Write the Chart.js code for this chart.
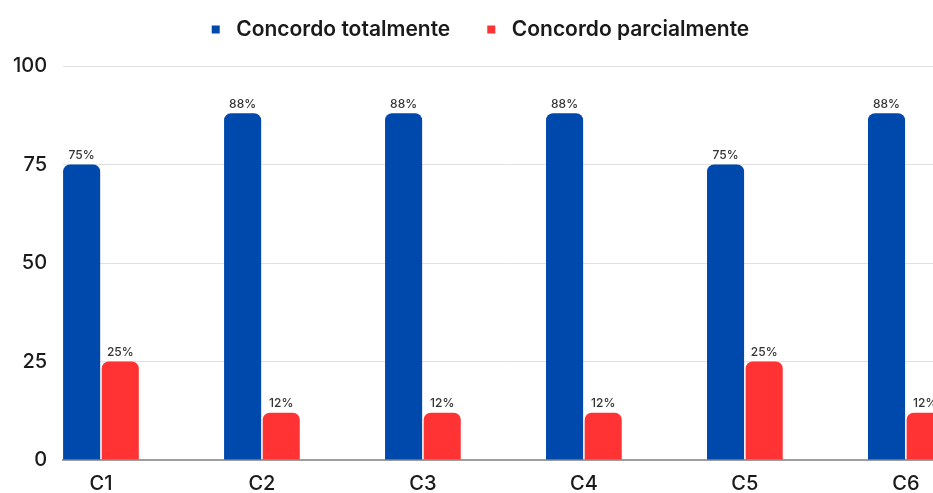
<!DOCTYPE html>
<html>
<head>
<meta charset="utf-8">
<script src="https://cdn.jsdelivr.net/npm/chart.js@4"></script>
<style>
    html, body { margin: 0; padding: 0; background: #fff; }
    #wrap { width: 933px; height: 493px; overflow: hidden; position: relative; }
    #box { width: 958px; height: 493px; position: absolute; left: 0; top: 0; }
</style>
</head>
<body>
<div id="wrap">
    <div id="box"><canvas id="chart"></canvas></div>
</div>
<script>
const categories = ['C1', 'C2', 'C3', 'C4', 'C5', 'C6'];
const totalmente = [75, 88, 88, 88, 75, 88];
const parcialmente = [25, 12, 12, 12, 25, 12];
const yTicks = [0, 25, 50, 75, 100];

const FONT = 'Inter, "Noto Sans", sans-serif';

// value labels above each bar
const barLabels = {
    id: 'barLabels',
    afterDatasetsDraw(chart) {
        const ctx = chart.ctx;
        ctx.save();
        ctx.font = '500 12px ' + FONT;
        ctx.fillStyle = '#333';
        ctx.textAlign = 'center';
        ctx.textBaseline = 'bottom';
        chart.data.datasets.forEach((ds, di) => {
            chart.getDatasetMeta(di).data.forEach((bar, i) => {
                ctx.fillText(ds.data[i].y + '%', bar.x, bar.y - 3);
            });
        });
        ctx.restore();
    }
};

function toPoints(values) {
    return values.map((v, i) => ({ x: i, y: v }));
}

const ctx = document.getElementById('chart').getContext('2d');
new Chart(ctx, {
    type: 'bar',
    data: {
        datasets: [
            {
                label: 'Concordo totalmente',
                data: toPoints(totalmente),
                backgroundColor: '#0049AC',
                borderRadius: { topLeft: 7, topRight: 7 },
                borderSkipped: 'bottom'
            },
            {
                label: 'Concordo parcialmente',
                data: toPoints(parcialmente),
                backgroundColor: '#FF3333',
                borderRadius: { topLeft: 7, topRight: 7 },
                borderSkipped: 'bottom'
            }
        ]
    },
    options: {
        responsive: true,
        maintainAspectRatio: false,
        animation: false,
        categoryPercentage: 0.48,
        barPercentage: 0.96,
        layout: { padding: { top: -12, left: -3, right: 0, bottom: -15 } },
        plugins: {
            tooltip: { enabled: false },
            // empty title used as spacer under the legend
            title: { display: true, text: '', weight: 500, padding: 3, font: { size: 10, lineHeight: 1 } },
            legend: {
                position: 'top',
                labels: {
                    usePointStyle: true,
                    pointStyle: 'rect',
                    boxWidth: 20,
                    boxHeight: 8,
                    padding: 31,
                    color: '#1a1a1a',
                    font: { family: FONT, size: 21, weight: '600' }
                }
            }
        },
        scales: {
            x: {
                type: 'linear',
                offset: false,
                min: -0.235,
                max: 5.324,
                grid: { display: false, drawTicks: false, offset: false },
                border: { display: true, color: '#9e9e9e', width: 2 },
                ticks: {
                    stepSize: 1,
                    includeBounds: false,
                    padding: 12,
                    color: '#1a1a1a',
                    font: { family: FONT, size: 20, weight: '500' },
                    callback: (v) => categories[v] ?? ''
                }
            },
            y: {
                min: yTicks[0],
                max: yTicks[yTicks.length - 1],
                grid: { color: '#e0e0e0', lineWidth: 1, drawTicks: false },
                border: { display: false },
                afterBuildTicks: (scale) => {
                    scale.ticks = yTicks.map(v => ({ value: v }));
                },
                ticks: {
                    padding: 16,
                    color: '#1a1a1a',
                    font: { family: FONT, size: 20, weight: '500' }
                }
            }
        }
    },
    plugins: [barLabels]
});
</script>
</body>
</html>
